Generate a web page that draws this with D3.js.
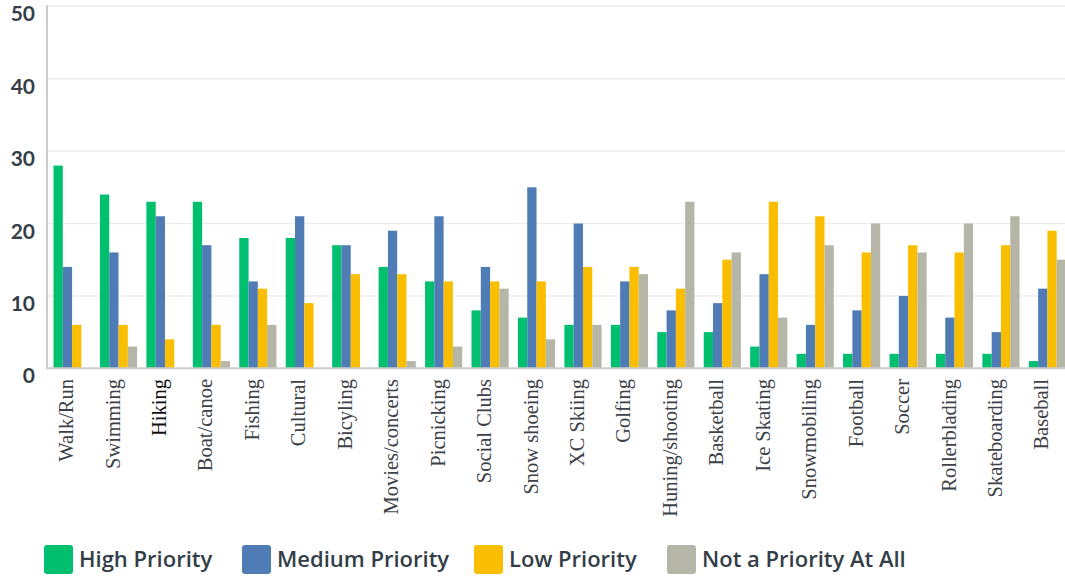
<!DOCTYPE html>
<html>
<head>
<meta charset="utf-8">
<script src="https://cdn.jsdelivr.net/npm/d3@7"></script>
<style>
  html, body { margin: 0; padding: 0; background: #fff; }
  svg { display: block; }
</style>
</head>
<body>
<svg id="chart" width="1065" height="576"></svg>
<script>
const categories = ["Walk/Run","Swimming","Hiking","Boat/canoe","Fishing","Cultural","Bicyling","Movies/concerts","Picnicking","Social Clubs","Snow shoeing","XC Skiing","Golfing","Huning/shooting","Basketball","Ice Skating","Snowmobiling","Football","Soccer","Rollerblading","Skateboarding","Baseball"];
const seriesNames = ["High Priority","Medium Priority","Low Priority","Not a Priority At All"];
const highPriority   = [28,24,23,23,18,18,17,14,12,8,7,6,6,5,5,3,2,2,2,2,2,1];
const mediumPriority = [14,16,21,17,12,21,17,19,21,14,25,20,12,8,9,13,6,8,10,7,5,11];
const lowPriority    = [6,6,4,6,11,9,13,13,12,12,12,14,14,11,15,23,21,16,17,16,17,19];
const notPriority    = [0,3,0,1,6,0,0,1,3,11,4,6,13,23,16,7,17,20,16,20,21,15];
const yTicks = [0,10,20,30,40,50];
const colors = ["#00BF6F","#507CB6","#F9BE00","#B5B6A7"];

const seriesValues = [highPriority, mediumPriority, lowPriority, notPriority];

const svg = d3.select("#chart");
const plotLeft = 47, plotBottom = 368.3, plotTop = 6.3;

const x = d3.scaleBand().domain(categories).range([plotLeft, 1072.5]).paddingInner(0.2).paddingOuter(0.14);
const xs = d3.scaleBand().domain(d3.range(4)).range([0, x.bandwidth()]);
const y = d3.scaleLinear().domain([0, 50]).range([plotBottom, plotTop]);

// gridlines
svg.append("g").selectAll("line").data(yTicks.filter(d => d > 0)).join("line")
  .attr("x1", plotLeft).attr("x2", 1065)
  .attr("y1", d => y(d)).attr("y2", d => y(d))
  .attr("stroke", "#ededed").attr("stroke-width", 1.5);

// y tick labels
svg.append("g").selectAll("text").data(yTicks).join("text")
  .attr("x", 35).attr("y", d => y(d) + 15)
  .attr("text-anchor", "end")
  .attr("font-family", "Lato, 'Open Sans', sans-serif")
  .attr("font-weight", 700)
  .attr("font-size", 21)
  .attr("fill", "#333e48")
  .text(d => d);

// bars
const groups = svg.append("g").selectAll("g").data(categories).join("g")
  .attr("transform", d => `translate(${x(d)},0)`);
groups.selectAll("rect").data((c, i) => seriesValues.map((s, k) => ({k, v: s[i]}))).join("rect")
  .attr("x", d => xs(d.k))
  .attr("width", xs.bandwidth())
  .attr("y", d => y(d.v))
  .attr("height", d => plotBottom - y(d.v))
  .attr("fill", d => colors[d.k]);

// axis lines
svg.append("line").attr("x1", plotLeft).attr("x2", plotLeft).attr("y1", 5).attr("y2", plotBottom + 1)
  .attr("stroke", "#cccccc").attr("stroke-width", 2);
svg.append("line").attr("x1", plotLeft - 1).attr("x2", 1065).attr("y1", plotBottom).attr("y2", plotBottom)
  .attr("stroke", "#cccccc").attr("stroke-width", 2);

// x labels
svg.append("g").selectAll("text").data(categories).join("text")
  .attr("transform", d => `translate(${x(d) + x.bandwidth() / 2 + 1},379) rotate(-90)`)
  .attr("text-anchor", "end")
  .attr("font-family", "'Liberation Serif', 'Times New Roman', serif")
  .attr("font-size", 20.5)
  .attr("fill", d => d === "Hiking" ? "#111" : "#3d4248")
  .text(d => d);

// legend
const legendX = [44, 242, 474, 667];
const lg = svg.append("g").selectAll("g").data(seriesNames).join("g")
  .attr("transform", (d, i) => `translate(${legendX[i]},545)`);
lg.append("rect").attr("width", 29).attr("height", 29).attr("rx", 3).attr("fill", (d, i) => colors[i]);
lg.append("text").attr("x", 35).attr("y", 21.5)
  .attr("font-family", "'Open Sans', sans-serif")
  .attr("font-weight", 600)
  .attr("font-size", 22)
  .attr("fill", "#333e48")
  .text(d => d);
</script>
</body>
</html>
